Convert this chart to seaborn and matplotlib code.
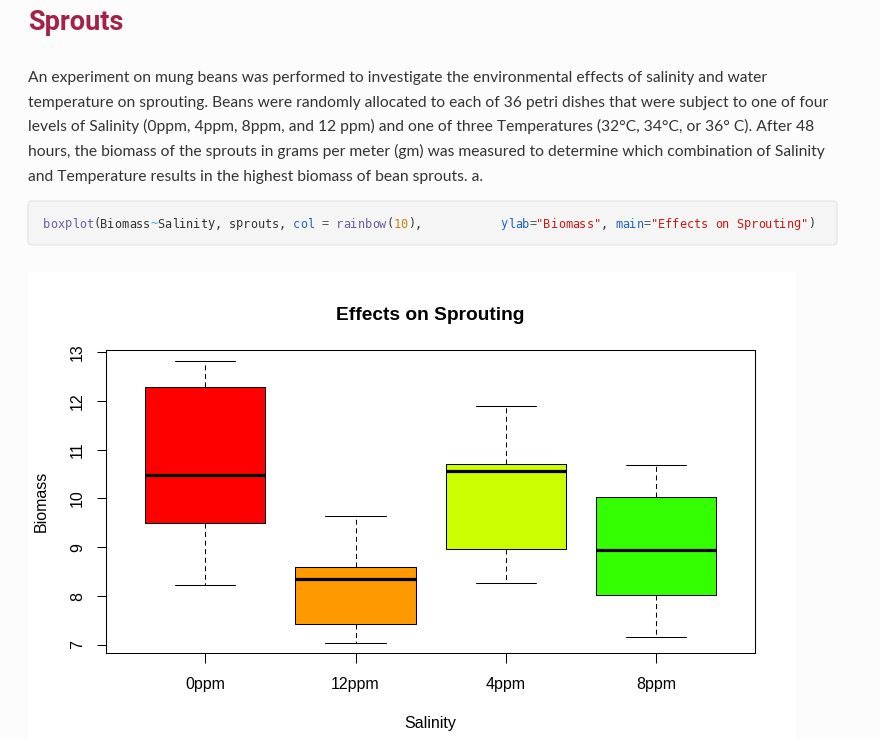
import numpy as np
import pandas as pd
import matplotlib
matplotlib.use("Agg")
import matplotlib.pyplot as plt
from matplotlib.patches import Rectangle, FancyBboxPatch
import seaborn as sns

# five-number summaries: min, lower hinge, median, upper hinge, max
salinity = ["0ppm", "12ppm", "4ppm", "8ppm"]
biomass_0ppm = [8.23, 9.49, 10.49, 12.28, 12.81]
biomass_12ppm = [7.05, 7.43, 8.35, 8.59, 9.65]
biomass_4ppm = [8.26, 8.96, 10.56, 10.71, 11.89]
biomass_8ppm = [7.17, 8.03, 8.94, 10.02, 10.68]
box_colors = ["#FF0000", "#FF9900", "#CCFF00", "#33FF00"]  # first 4 of rainbow(10)
y_ticks = [7, 8, 9, 10, 11, 12, 13]

heading = "Sprouts"
paragraph = [
    "An experiment on mung beans was performed to investigate the environmental effects of salinity and water",
    "temperature on sprouting. Beans were randomly allocated to each of 36 petri dishes that were subject to one of four",
    "levels of Salinity (0ppm, 4ppm, 8ppm, and 12 ppm) and one of three Temperatures (32\u00b0C, 34\u00b0C, or 36\u00b0 C). After 48",
    "hours, the biomass of the sprouts in grams per meter (gm) was measured to determine which combination of Salinity",
    "and Temperature results in the highest biomass of bean sprouts. a.",
]
# (text, colour) pieces of the highlighted R call
code_parts = [
    ("boxplot", "#6e5ba0"), ("(Biomass", "#333333"), ("~", "#35a3d9"),
    ("Salinity, sprouts, ", "#333333"), ("col", "#1f63c0"), (" = ", "#555555"),
    ("rainbow", "#6e5ba0"), ("(", "#333333"), ("10", "#b8860b"), ("),           ", "#333333"),
    ("ylab", "#1f63c0"), ("=", "#555555"), ('"Biomass"', "#c41a16"), (", ", "#333333"),
    ("main", "#1f63c0"), ("=", "#555555"), ('"Effects on Sprouting"', "#c41a16"), (")", "#333333"),
]

df = pd.DataFrame({
    "Salinity": np.repeat(salinity, 5),
    "Biomass": np.concatenate([biomass_0ppm, biomass_12ppm, biomass_4ppm, biomass_8ppm]),
})

sns.set_style("ticks")
plt.rcParams["font.family"] = ["Liberation Sans", "DejaVu Sans"]
plt.rcParams["text.color"] = "black"
plt.rcParams["axes.labelcolor"] = "black"

W, H = 880, 739
fig = plt.figure(figsize=(W / 100, H / 100), dpi=100, facecolor="#fcfcfc")
inch = fig.dpi_scale_trans


def px(x, y):
    # page pixel (top-left origin) -> inches from bottom-left
    return x / 100, (H - y) / 100


# page furniture, kept behind the axes
fig.text(*px(28, 29.5), heading, transform=inch, family="Roboto", weight="bold",
         size=19.5, color="#a3224a", va="baseline")
for i, line in enumerate(paragraph):
    fig.text(*px(28, 82.3 + i * 24.6), line, transform=inch, family="Lato",
             size=11.25, color="#333333", va="baseline")

fig.add_artist(FancyBboxPatch(px(28, 245), 8.09, 0.44, boxstyle="round,pad=0,rounding_size=0.04",
                              transform=inch, facecolor="#f5f5f5", edgecolor="#e2e2e2", lw=0.8,
                              zorder=-2))
col = 0
for part, c in code_parts:
    for ch in part:
        if ch != " ":
            fig.text(*px(43 + col * 7.15, 227.5), ch, transform=inch, family="DejaVu Sans Mono",
                     size=8.55, color=c, va="baseline")
        col += 1

fig.add_artist(Rectangle(px(28, 739), 7.68, 4.67, transform=inch, facecolor="white",
                         edgecolor="none", zorder=-2))

# the R-style boxplot
ax = fig.add_axes([106 / W, 1 - 653 / H, (755 - 106) / W, (653 - 350) / H])
ax.set_facecolor("white")
sns.boxplot(data=df, x="Salinity", y="Biomass", hue="Salinity", order=salinity, hue_order=salinity,
            palette=box_colors, legend=False, saturation=1, width=0.8, whis=(0, 100),
            linecolor="black", linewidth=0.75, fliersize=0,
            medianprops=dict(color="black", linewidth=2.3),
            whiskerprops=dict(linestyle=(0, (4.8, 3.4))), ax=ax)

ax.set_xlim(-0.66, 3.657)
ax.set_ylim(6.836, 13.04)
ax.set_yticks(y_ticks)
for s in ax.spines.values():
    s.set_visible(True)
    s.set_color("black")
    s.set_linewidth(0.75)
ax.tick_params(axis="x", length=7.2, width=0.75, pad=10, labelsize=11.5, colors="black")
ax.tick_params(axis="y", length=6.3, width=0.75, pad=9, labelsize=11.5, colors="black", labelrotation=90)
for t in ax.get_yticklabels():
    t.set_verticalalignment("center")
ax.set_xlabel("Salinity", fontsize=11.5, labelpad=17.5)
ax.set_ylabel("Biomass", fontsize=11.5, labelpad=15)
ax.set_title("Effects on Sprouting", fontsize=13.8, fontweight="bold", pad=21.6)

fig.savefig("out.png", dpi=100, facecolor=fig.get_facecolor())
